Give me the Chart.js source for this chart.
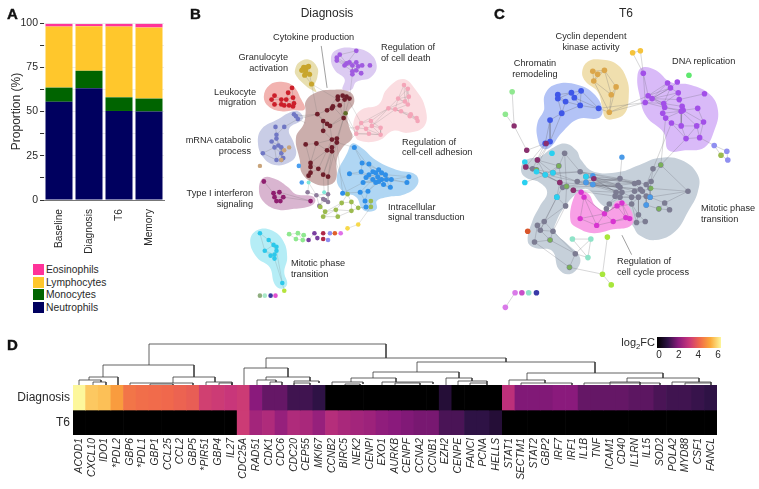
<!DOCTYPE html>
<html>
<head>
<meta charset="utf-8">
<title>Panels A-D</title>
<script src="https://cdn.jsdelivr.net/npm/chart.js@4/dist/chart.umd.min.js"></script>
<style>
html, body { margin: 0; padding: 0; background: #fff; }
#page { position: relative; width: 759px; height: 489px; overflow: hidden; font-family: "Liberation Sans", Arial, sans-serif; color: #2a2a2a; }
#page canvas { position: absolute; }
.note { position: absolute; white-space: nowrap; line-height: 1; }
.swatch { position: absolute; width: 11px; height: 11px; }
sub { font-size: 70%; line-height: 0; }
</style>
</head>
<body>
<div id="page"></div>
<script>
// panel A
const stages = ['Baseline', 'Diagnosis', 'T6', 'Memory'];
const neutrophils = [55.5, 63.2, 50.3, 50];
const monocytes = [8, 9.8, 7.7, 7.3];
const lymphocytes = [34.5, 25.2, 40, 40.2];
const eosinophils = [1.5, 1.2, 1.5, 2];
const proportionTicks = [0, 12.5, 25, 37.5, 50, 62.5, 75, 87.5, 100];

// panel D
const genes = ['ACOD1','CXCL10','IDO1','*PDL2','GBP6','*PDL1','GBP1','CCL25','CCL2','GBP5','*PIR51','GBP4','IL27',
  'CDC25A','RAD51','CDK1','CDC6','CDC20','CEP55','MKI67','CCNB2','BIRC5','NEK2','CENPI','EXO1','AURKB','CENPF','CCNA2','CCNB1',
  'EZH2','CENPE','FANCI','PCNA','HELLS','STAT1','SECTM1','STAT2','GBP2','IRF7','IRF1','IL1B','TNF','ICAM1','CD40','IL1RN','IL15','SOD2','POLA2','MYD88','CSF1','FANCL'];
const diagnosisFC = [6, 5.4, 5.3, 4.8, 4.2, 4.1, 4.05, 4, 3.9, 3.8, 3.2, 3.1, 3,
  3.1, 2, 1.6, 1.6, 1.2, 1.2, 1, 0, 0, 0, 0, 0, 0, 0, 0, 0,
  0.8, 0, 0, 0, 0, 2.8, 1.9, 1.9, 1.9, 2, 2, 1.6, 1.6, 1.6, 1.6, 1.5, 1.5, 1.3, 1.2, 1.2, 1.1, 1];
const t6FC = [0, 0, 0, 0, 0, 0, 0, 0, 0, 0, 0, 0, 0,
  3.1, 2.4, 2.6, 2.2, 2.6, 2.5, 2.2, 2.7, 2.5, 2.4, 2.3, 2.1, 2, 1.9, 1.8, 1.8,
  1.3, 1.3, 1, 1, 0.8, 0, 0, 0, 0, 0, 0, 0, 0, 0, 0, 0, 0, 0, 0, 0, 0, 0];
const rowNames = ['T6', 'Diagnosis'];
const fcStops = ['#000000', '#2e1245', '#8a1a7c', '#c8367a', '#f0684c', '#fba93a', '#fdf79c'];
const fcTicks = [0, 2, 4, 6];
// left x, left bottom, top, right x, right bottom
const dendroMerges = [
  [149,365,344,386,358], [103,377,365,194,377], [89,380,377,118,385], [79,385,380,101,382], [93,385,382,106,385],
  [173,383,377,215,382], [130,385,383,193,385], [150,385,384,173,385], [206,385,382,232,385], [219,385,383,232,385],
  [266,368,358,506,362], [244,385,368,288,377], [266,380,377,310,381], [257,385,380,276,382], [270,385,382,282,385],
  [294,385,381,319,383], [294,385,383,310,385], [417,372,362,595,373], [373,378,372,459,378], [351,382,378,396,382],
  [332,385,382,363,384], [345,385,384,360,385], [382,385,382,433,384], [395,385,383,420,385], [446,385,378,472,381],
  [458,385,381,487,383], [470,385,383,487,385], [527,380,373,663,378], [509,385,380,545,383], [521,385,383,572,385],
  [627,382,378,699,382], [584,385,383,660,385], [610,385,382,640,385], [672,385,382,711,383], [685,385,383,711,385]
];

// panel B networks, node positions in plot units
const bGran = [[303,65],[306,65],[308,64],[302,67],[305,69],[301,68],[309,72],[304,73],[311,82]];
const bGranLinks = [0,1,1,2,0,3,3,4,4,5,1,4,2,6,4,6,6,7,3,7,7,8,6,8];
const bDeath = [[340,52],[337,55],[337,58],[357,48],[347,61],[350,60],[357,60],[345,63],[353,63],[359,64],[363,63],[371,63],[353,69],[357,68],[362,71],[353,72]];
const bDeathLinks = [0,1,1,2,0,3,0,4,1,4,2,7,2,4,3,4,4,5,5,6,6,8,6,9,8,9,9,10,7,8,7,12,8,12,8,13,12,15,13,14,12,13,13,15,4,7];
const bLeuk = [[291,86],[287,91],[273,94],[270,98],[285,98],[292,96],[280,98],[293,102],[273,103],[280,103],[288,104],[292,105],[283,104]];
const bLeukLinks = [0,1,1,4,1,5,0,5,2,3,2,6,3,6,6,4,4,5,4,7,5,7,6,9,8,9,3,8,4,10,7,11,10,11,9,12,12,10,4,12];
const bRna = [[293,113],[295,115],[297,118],[274,126],[283,126],[275,134],[270,141],[275,138],[277,145],[280,147],[261,153],[275,160],[280,160],[280,153],[273,147],[282,158]];
const bRnaLinks = [0,1,1,2,0,2,3,5,4,5,5,7,6,7,7,8,8,9,6,8,7,9,8,13,9,13,13,12,13,15,12,15,11,12,11,13,10,11,10,14,14,8,14,13,6,14,14,11,2,4,9,15];
const bRnaTan = [[288,147],[283,150],[280,160],[258,166]];
const bCyto = [[338,95],[343,94],[347,95],[350,97],[338,98],[345,98],[340,104],[333,105],[332,107],[327,109],[317,113],[344,117],[323,120],[327,123],[330,125],[323,130],[337,138],[332,139],[337,142],[305,144],[316,143],[332,147],[327,150],[332,151],[310,163],[310,167],[323,175],[328,177],[310,173],[318,169],[308,176]];
const bCytoLinks = [0,1,1,2,2,3,0,4,4,5,1,5,2,5,3,5,4,6,5,6,6,7,7,8,6,8,8,9,9,10,7,11,6,11,5,11,0,9,10,12,10,14,12,13,13,14,12,15,15,17,14,17,11,16,11,18,16,17,17,18,16,21,17,22,18,23,21,22,22,23,19,20,20,17,20,22,19,24,20,24,22,24,22,29,23,27,21,26,26,27,24,25,25,28,28,29,28,30,29,26,24,29,16,26,18,27,3,11,11,14];
const bAdh = [[406,83],[410,87],[411,95],[407,100],[400,97],[410,103],[390,107],[397,108],[403,110],[413,113],[419,117],[420,120],[412,115],[372,120],[362,122],[358,127],[367,128],[382,127],[382,134],[370,133],[357,133],[373,125]];
const bAdhLinks = [0,1,0,2,0,3,1,2,1,3,1,4,2,3,2,4,3,4,2,5,3,5,4,5,0,4,3,6,4,6,4,7,5,7,6,7,6,8,7,8,7,12,8,9,8,12,9,10,9,11,10,11,12,10,12,11,6,13,6,14,6,21,7,21,13,14,14,15,14,16,15,16,13,21,13,17,16,21,21,17,17,18,16,18,16,19,19,18,19,20,15,20,20,18,21,18,14,20];
const bIntra = [[350,174],[362,172],[363,163],[370,164],[370,175],[374,172],[377,173],[380,170],[383,173],[387,175],[379,177],[383,180],[388,180],[393,180],[367,178],[364,183],[374,180],[377,183],[380,182],[385,185],[392,188],[369,192],[361,193],[411,177],[409,183],[366,202],[343,194],[367,208],[355,147]];
const bIntraLinks = [0,1,0,4,1,2,2,3,2,7,3,7,3,5,1,4,4,5,5,6,6,7,7,8,8,9,9,12,12,13,10,11,11,12,10,16,16,17,17,18,18,19,19,20,13,20,13,23,13,24,9,23,12,24,23,24,14,10,14,8,14,16,15,16,15,17,15,11,4,10,5,10,5,11,6,11,7,12,8,13,6,13,7,13,16,19,17,20,21,17,21,11,22,16,21,22,22,25,21,25,25,27,26,22,26,15,20,8,19,7,18,12,10,12,16,12,17,13,14,13,28,2,28,5];
const bOlive = [[320,208],[325,213],[323,218],[336,211],[338,218],[352,212],[352,203],[342,204],[359,209],[348,195],[372,208],[372,202]];
const bOliveLinks = [0,1,1,2,1,3,2,3,3,4,3,7,4,5,3,5,5,6,6,7,7,9,6,9,5,8,6,8,2,4,8,10,10,11,1,7];
const bMauve = [[307,193],[316,196],[323,200],[325,201],[328,203],[328,195],[319,207]];
const bMauveLinks = [0,1,1,2,2,3,3,4,1,5,5,4,2,6,1,6,3,6];
const bIfn = [[262,182],[278,193],[272,194],[273,198],[282,198],[275,202],[279,202],[310,202]];
const bIfnLinks = [0,2,1,2,1,3,1,4,2,3,3,4,3,5,4,6,5,6,4,7,1,7];
const bMit = [[258,235],[267,242],[272,247],[275,249],[263,253],[275,253],[269,258],[273,257],[281,286],[273,261]];
const bMitLinks = [0,1,0,4,1,2,1,3,1,5,2,3,2,4,2,5,4,6,4,7,3,5,5,7,6,7,6,9,7,9,5,8,9,8];
const bGreen = [[288,236],[297,235],[303,237],[295,241],[302,242]];
const bGreenLinks = [0,1,1,2,0,3,3,4,2,4,1,3,1,4];
// x1, y1, x2, y2 for links between groups
const bCross = [[311,82,317,113],[350,97,353,72],[346,112,357,133],[353,137,357,133],[297,118,317,113],[297,113,305,116],[295,115,317,113],[297,118,305,122],
  [350,127,358,127],[347,95,362,122],[344,117,357,133],[337,142,355,147],[337,142,343,194],[332,151,348,195],[323,175,324,193],[328,177,328,195],[310,173,307,193],[316,196,308,183],
  [319,207,320,208],[348,195,343,194],[359,226,372,208],[348,230,359,226],[281,286,283,294],[303,242,308,242],[308,242,314,235],[314,235,317,240],[338,98,311,82],[330,125,346,112]];
const bBlue = [[298,166],[301,183]];
const bCyan = [[308,183],[324,193]];
const bLoose = [[346,112],[283,294],[348,230],[359,226],[308,242],[314,235],[317,240],[323,235],[323,241],[330,235],[328,242],[335,235],[341,235],[258,299],[263,299],[269,299],[274,299]];
const bLooseColors = ['#5f6d2a','#b5e33c','#f7d94a','#f7d94a','#7a3fa0','#7a3fa0','#7a3fa0','#b02a4a','#b02a4a','#8f8ff0','#8f8ff0','#e0602a','#e070e8','#8fae7f','#a8e8c8','#3a3aa0','#e050d0'];
const bCytoLeader = [321,43,327,86];

const bGranBlob = [[294,68],[298,60],[308,57],[317,65],[317,75],[314,84],[316,90],[311,88],[303,82],[295,73]];
const bDeathBlob = [[331,55],[337,47],[353,45],[370,50],[378,63],[372,75],[357,80],[352,88],[343,88],[345,77],[335,68]];
const bLeukBlob = [[262,95],[268,83],[282,80],[293,85],[300,97],[304,108],[293,109],[280,110],[267,105]];
const bRnaBlob = [[256,143],[260,128],[277,118],[287,112],[297,110],[302,118],[288,128],[293,143],[295,155],[287,163],[273,165],[262,158]];
const bCytoBlob = [[305,100],[313,92],[330,88],[350,90],[355,100],[348,113],[350,127],[353,137],[343,147],[337,160],[336,180],[327,186],[312,183],[301,173],[299,160],[295,137],[303,123],[305,110]];
const bIfnBlob = [[257,190],[262,178],[275,180],[287,188],[295,195],[312,197],[315,202],[310,207],[293,210],[277,211],[262,203]];
const bMitBlob = [[248,243],[255,232],[270,232],[282,243],[286,260],[283,275],[286,287],[280,292],[273,287],[268,270],[255,260]];
const bIntraBlob = [[337,177],[348,152],[353,143],[363,148],[377,160],[398,170],[418,175],[420,185],[407,195],[388,198],[378,202],[378,210],[370,213],[363,210],[357,198],[343,192]];
const bAdhBlob = [[355,118],[363,108],[380,103],[388,88],[405,77],[418,88],[428,107],[427,125],[410,132],[395,130],[380,140],[360,140],[355,132]];

// panel C network
const cChrom = [[556,93],[556,97],[570,91],[580,89],[573,96],[564,100],[579,104],[598,107],[560,112],[548,119],[548,141],[543,143]];
const cChromLinks = [0,1,0,2,1,2,2,3,2,4,3,4,3,6,4,6,1,5,0,5,5,6,5,8,1,8,8,6,6,7,3,7,4,7,8,9,8,10,9,11,10,11,9,10];
const cCyclin = [[592,69],[597,72],[604,68],[593,79],[616,85],[611,93],[609,111]];
const cCyclinLinks = [0,1,0,2,1,2,0,3,1,3,2,3,2,4,3,5,4,5,4,6,5,6,3,6,2,5];
const cDna = [[644,71],[669,81],[679,80],[672,86],[680,91],[707,92],[649,94],[653,97],[681,98],[646,101],[665,102],[666,106],[684,105],[685,109],[700,107],[664,112],[683,110],[667,117],[673,122],[683,125],[699,125],[706,121],[688,138],[702,137]];
const cDnaLinks = [0,6,0,9,6,1,6,3,7,1,7,3,7,4,9,3,9,10,7,10,6,10,9,11,7,11,7,8,1,3,2,3,3,4,4,8,8,12,10,11,10,12,11,13,12,13,13,14,5,8,3,10,4,10,11,15,15,17,17,18,13,16,16,19,12,19,18,19,19,20,20,21,14,21,13,21,19,22,18,22,22,23,21,23,20,23,20,22,16,20,10,15,15,16,11,16,17,16];
const cMit = [[563,153],[557,166],[523,167],[535,160],[530,169],[534,170],[543,175],[551,173],[579,172],[585,177],[593,179],[576,182],[558,183],[561,188],[565,187],[572,191],[585,183],[592,185],[555,198],[564,207],[620,179],[618,186],[620,188],[616,193],[622,193],[615,197],[620,198],[635,184],[639,183],[647,185],[652,182],[641,190],[635,192],[651,189],[643,192],[632,198],[639,198],[647,197],[651,198],[609,205],[606,210],[632,205],[666,204],[647,206],[660,210],[671,211],[690,192],[662,165],[654,169],[639,216],[646,223],[637,224],[542,223],[535,227],[538,232],[551,233],[548,242],[532,244],[574,256],[568,270]];
const cMitLinks = [8,20,8,21,9,20,9,22,10,21,10,23,11,20,11,22,11,23,15,23,15,25,16,21,16,24,17,20,17,22,17,24,8,27,9,27,10,28,16,27,17,31,8,23,14,20,13,21,12,22,6,8,7,8,7,11,6,11,6,12,4,6,2,4,2,6,3,6,3,7,5,7,2,12,4,12,0,1,0,8,1,7,1,6,1,13,0,14,1,3,13,18,12,18,18,19,14,19,19,52,18,52,52,53,52,54,53,54,54,55,55,56,56,57,53,57,54,56,52,55,19,55,18,54,55,58,58,59,56,58,57,59,
  20,21,21,22,22,23,23,24,24,25,25,26,20,27,20,28,21,27,22,31,22,32,24,32,24,35,26,35,26,36,27,28,28,29,29,30,27,31,31,32,31,34,32,34,33,34,29,33,30,33,33,38,34,37,36,37,37,38,35,36,38,42,37,43,41,35,41,36,43,44,44,45,42,45,42,44,46,42,46,38,46,33,47,48,47,46,48,30,48,29,47,30,39,25,39,40,40,41,39,26,41,49,49,50,49,51,50,51,36,49,41,51];
const cPink = [[580,193],[583,198],[579,220],[596,227],[604,215],[613,223],[622,204],[626,219],[630,220],[617,207]];
const cPinkLinks = [0,1,1,2,1,4,2,3,2,4,3,4,3,5,4,5,4,6,5,7,5,8,6,7,6,8,6,9,7,8,9,7,9,4,1,3];
const cCross = [[654,169,673,122],[662,165,688,138],[662,165,667,117],[522,183,543,175],[548,141,535,160],[543,143,523,167],[524,150,543,143],[511,125,524,150],[509,90,511,125],[502,113,511,125],
  [598,107,609,111],[609,111,646,101],[609,111,649,94],[598,107,646,101],[633,50,641,48],[641,48,644,71],[633,50,644,71],[702,137,717,145],[717,145,730,151],[717,145,724,155],[724,155,730,151],[730,151,731,160],[724,155,731,160],
  [622,157,620,179],[571,241,590,241],[590,241,587,260],[571,241,587,260],[574,256,590,241],[574,256,587,260],[607,239,602,277],[602,277,611,288],[568,270,602,277],[512,296,502,311],[548,141,535,165],[543,143,530,169]];
const cMaroon = [[523,167],[535,160],[593,179],[558,183],[572,191],[524,150],[511,125],[544,143]];
const cSky = [[585,183],[592,185],[651,198],[647,206],[592,176],[622,157]];
const cCyan = [[585,177],[551,173],[543,175],[555,198],[534,172],[550,153],[522,162],[522,183]];
const cLeaf = [[534,170],[565,187],[557,166],[652,189],[660,210],[548,242],[568,270],[662,165],[524,150]];
const cLoose = [[633,50],[641,48],[691,73],[717,145],[730,151],[731,160],[724,155],[509,90],[502,113],[525,233],[571,241],[590,241],[587,260],[607,239],[602,277],[611,288],[512,296],[519,296],[526,296],[534,296],[502,311]];
const cLooseColors = ['#f5c33b','#f5c33b','#5fe86f','#8f8ff0','#8f8ff0','#8f8ff0','#9cbb4f','#90e890','#90e890','#d9552a','#8fe3c8','#8fe3c8','#8fe3c8','#a8e63c','#a8e63c','#a8e63c','#d97ae8','#c84fc8','#8fe3c8','#3a3aa8','#d97ae8'];
const cLeader = [622,237,632,257];

const cChromBlob = [[543,92],[555,82],[577,83],[593,92],[602,108],[598,117],[577,118],[560,132],[548,147],[540,148],[535,137],[535,122],[542,108]];
const cCyclinBlob = [[581,70],[587,59],[600,57],[617,62],[627,77],[629,95],[625,112],[613,118],[605,117],[602,107],[597,90],[585,80]];
const cDnaBlob = [[638,73],[643,65],[657,68],[672,80],[693,83],[713,93],[721,110],[717,130],[707,147],[687,150],[670,150],[665,132],[647,115],[640,93]];
const cMitBlob = [[523,160],[537,157],[550,148],[563,143],[575,150],[580,160],[593,172],[620,172],[640,165],[660,158],[683,160],[700,175],[700,193],[690,213],[677,233],[657,242],[640,237],[633,227],[620,210],[603,207],[587,190],[577,193],[563,208],[555,222],[553,233],[567,247],[578,258],[578,268],[568,277],[557,272],[550,253],[532,250],[525,243],[530,222],[537,208],[545,193],[537,183],[523,178],[518,170]];
const cPinkBlob = [[573,197],[580,192],[588,195],[595,207],[608,212],[617,202],[627,205],[634,220],[630,228],[613,231],[593,235],[577,230],[569,222]];

// text placed around the panels: text, x, y centre, align, size, weight
const notes = [
  ['A',7,13,'left',15,'bold'], ['B',190,13,'left',15,'bold'], ['C',494,13,'left',15,'bold'], ['D',7,344,'left',15,'bold'],
  ['Diagnosis',327,13,'center',12], ['T6',626,13,'center',12],
  ['Cytokine production',273,37.5,'left',9.2],
  ['Regulation of',381,48,'left',9.2], ['of cell death',381,59,'left',9.2],
  ['Granulocyte',288,58,'right',9.2], ['activation',288,69,'right',9.2],
  ['Leukocyte',256,93,'right',9.2], ['migration',256,103,'right',9.2],
  ['mRNA catabolic',251,141,'right',9.2], ['process',251,152,'right',9.2],
  ['Regulation of',402,143,'left',9.2], ['cell-cell adhesion',402,153,'left',9.2],
  ['Type I interferon',253,194,'right',9.2], ['signaling',253,205,'right',9.2],
  ['Intracellular',388,208,'left',9.2], ['signal transduction',388,218,'left',9.2],
  ['Mitotic phase',291,264,'left',9.2], ['transition',291,275,'left',9.2],
  ['Cyclin dependent',591,37,'center',9.2], ['kinase activity',591,48,'center',9.2],
  ['Chromatin',535,64,'center',9.2], ['remodeling',535,75,'center',9.2],
  ['DNA replication',672,62,'left',9.2],
  ['Mitotic phase',701,209,'left',9.2], ['transition',701,220,'left',9.2],
  ['Regulation of',617,262,'left',9.2], ['cell cycle process',617,273,'left',9.2]
];
const legendNames = ['Eosinophils', 'Lymphocytes', 'Monocytes', 'Neutrophils'];
const legendColors = ['#ff3399', '#ffc72c', '#006400', '#00005f'];

Chart.defaults.font.family = '"Liberation Sans", Arial, sans-serif';
Chart.defaults.color = '#2a2a2a';
Chart.defaults.animation = false;
Chart.defaults.responsive = false;
Chart.defaults.plugins.legend.display = false;
Chart.defaults.plugins.tooltip.enabled = false;

const page = document.getElementById('page');

function addCanvas(x, y, w, h) {
  const c = document.createElement('canvas');
  c.width = w; c.height = h;
  c.style.left = x + 'px'; c.style.top = y + 'px';
  c.style.width = w + 'px'; c.style.height = h + 'px';
  page.appendChild(c);
  return c.getContext('2d');
}

function addNote(text, x, y, align, size, weight) {
  const d = document.createElement('div');
  d.className = 'note';
  d.textContent = text;
  d.style.fontSize = size + 'px';
  if (weight) {
    d.style.fontWeight = weight;
    d.style.webkitTextStroke = '0.4px #111';
    d.style.color = '#111';
  }
  d.style.top = y + 'px';
  let shift = '0';
  if (align === 'right') shift = '-100%';
  if (align === 'center') shift = '-50%';
  d.style.left = x + 'px';
  d.style.transform = 'translate(' + shift + ',-50%)';
  page.appendChild(d);
  return d;
}

const toXY = p => ({ x: p[0], y: p[1] });

// the outline overlaps itself by one point each way so the curve has no corner at the seam
function blob(points, color) {
  const n = points.length;
  const wrapped = [points[n - 1], ...points, points[0], points[1]];
  return { data: wrapped.map(toXY), showLine: true, fill: 'shape', tension: 0.42, backgroundColor: color, borderWidth: 0, pointRadius: 0, order: 5 };
}
function links(nodes, pairs, color, width) {
  const data = [];
  for (let i = 0; i < pairs.length; i += 2) {
    data.push(toXY(nodes[pairs[i]]), toXY(nodes[pairs[i + 1]]), { x: null, y: null });
  }
  return { data, showLine: true, borderColor: color, borderWidth: width, pointRadius: 0, tension: 0, order: 3 };
}
function cross(segments, color, width) {
  const data = [];
  segments.forEach(s => data.push({ x: s[0], y: s[1] }, { x: s[2], y: s[3] }, { x: null, y: null }));
  return { data, showLine: true, borderColor: color, borderWidth: width, pointRadius: 0, tension: 0, order: 3 };
}
function nodes(points, color, r, order) {
  return { data: points.map(toXY), backgroundColor: color, pointBackgroundColor: color, pointBorderWidth: 0, pointRadius: r, order: order || 2 };
}
function networkChart(ctx, x0, x1, y1, datasets) {
  return new Chart(ctx, {
    type: 'scatter',
    data: { datasets },
    options: {
      events: [],
      layout: { padding: 0 },
      scales: {
        x: { type: 'linear', min: x0, max: x1, display: false },
        y: { type: 'linear', min: 0, max: y1, reverse: true, display: false }
      }
    }
  });
}

// A: stacked bars
new Chart(addCanvas(0, 0, 180, 262), {
  type: 'bar',
  data: {
    labels: stages,
    datasets: [
      { label: 'Neutrophils', data: neutrophils, backgroundColor: '#00005f' },
      { label: 'Monocytes', data: monocytes, backgroundColor: '#006400' },
      { label: 'Lymphocytes', data: lymphocytes, backgroundColor: '#ffc72c' },
      { label: 'Eosinophils', data: eosinophils, backgroundColor: '#ff3399' }
    ]
  },
  options: {
    layout: { padding: { top: 23, right: 16 } },
    datasets: { bar: { barPercentage: 0.9, categoryPercentage: 1 } },
    scales: {
      x: {
        stacked: true,
        afterFit: s => { s.height = 62; },
        grid: { display: false, tickColor: '#333', tickLength: 4 },
        border: { color: '#777' },
        ticks: { maxRotation: 90, minRotation: 90, font: { size: 10.2 }, padding: 5, color: '#2a2a2a' }
      },
      y: {
        stacked: true, min: 0, max: 100,
        afterFit: s => { s.width = 44; },
        afterBuildTicks: s => { s.ticks = proportionTicks.map(v => ({ value: v })); },
        grid: { color: '#ececec', tickColor: '#333', tickLength: 4 },
        border: { display: false },
        title: { display: true, text: 'Proportion (%)', font: { size: 12 }, padding: { top: 9, bottom: 0 } },
        ticks: { autoSkip: false, font: { size: 10.5 }, padding: 2, color: '#2a2a2a', callback: v => (v % 25 === 0 ? v : '') }
      }
    }
  }
});

legendNames.forEach((name, i) => {
  const s = document.createElement('div');
  s.className = 'swatch';
  s.style.left = '33px';
  s.style.top = (264 + i * 12.7) + 'px';
  s.style.background = legendColors[i];
  page.appendChild(s);
  addNote(name, 46, 270 + i * 12.7, 'left', 10.3);
});

// B
const bEdge = 'rgba(105,105,105,0.38)';
networkChart(addCanvas(180, 0, 300, 325), 180, 480, 325, [
  blob(bRnaBlob, '#c9cde6'), blob(bCytoBlob, '#cbaeac'), blob(bAdhBlob, '#fbdde1'), blob(bIntraBlob, '#b0d6f3'),
  blob(bGranBlob, '#e8dfb0'), blob(bDeathBlob, '#dccbf2'), blob(bLeukBlob, '#f2b3b0'), blob(bIfnBlob, '#d9b5d0'), blob(bMitBlob, '#b5edf6'),
  links(bGran, bGranLinks, bEdge, 0.6), links(bDeath, bDeathLinks, bEdge, 0.6), links(bLeuk, bLeukLinks, bEdge, 0.6),
  links(bRna, bRnaLinks, bEdge, 0.6), links(bCyto, bCytoLinks, bEdge, 0.6), links(bAdh, bAdhLinks, bEdge, 0.5),
  links(bIntra, bIntraLinks, bEdge, 0.5), links(bOlive, bOliveLinks, bEdge, 0.6), links(bMauve, bMauveLinks, bEdge, 0.6),
  links(bIfn, bIfnLinks, bEdge, 0.6), links(bMit, bMitLinks, bEdge, 0.5), links(bGreen, bGreenLinks, bEdge, 0.5),
  cross(bCross, bEdge, 0.5), cross([bCytoLeader], '#888', 0.8),
  nodes(bGran, '#c8a52c', 2.6), nodes(bDeath, '#a05be0', 2.4), nodes(bLeuk, '#cc1f2a', 2.4), nodes(bRna, '#7077c4', 2.3),
  nodes(bRnaTan, '#c9a47a', 2.2, 1), nodes(bCyto, '#6e1f2b', 2.4), nodes(bAdh, '#f4a5b8', 2.3), nodes(bIntra, '#2f8fe8', 2.5),
  nodes(bOlive, '#9cbb4f', 2.4), nodes(bMauve, '#8e7c9c', 2.3), nodes(bIfn, '#8f1f6f', 2.4), nodes(bMit, '#2cc8ea', 2.3),
  nodes(bGreen, '#8fe88f', 2.4), nodes(bBlue, '#4a9ff0', 2.3, 1), nodes(bCyan, '#7fe8d8', 2, 1),
  { data: bLoose.map(toXY), pointBackgroundColor: bLooseColors, pointBorderWidth: 0, pointRadius: 2.3, order: 1 }
]);

// C
const cEdge = 'rgba(95,95,105,0.42)';
networkChart(addCanvas(480, 0, 279, 325), 480, 759, 325, [
  blob(cMitBlob, '#c6d0da'), blob(cChromBlob, '#b3c3f6'), blob(cCyclinBlob, '#f0dfae'), blob(cDnaBlob, '#d9baf8'),
  { ...blob(cPinkBlob, '#f8a0e6'), order: 4 },
  links(cMit, cMitLinks, cEdge, 0.6), links(cChrom, cChromLinks, cEdge, 0.7), links(cCyclin, cCyclinLinks, cEdge, 0.6),
  links(cDna, cDnaLinks, cEdge, 0.6), links(cPink, cPinkLinks, cEdge, 0.6), cross(cCross, 'rgba(120,120,125,0.5)', 0.6), cross([cLeader], '#888', 0.8),
  nodes(cMit, '#7c7c92', 2.8), nodes(cChrom, '#3f57e8', 2.9), nodes(cCyclin, '#dba64a', 2.8), nodes(cDna, '#a24fe8', 2.8), nodes(cPink, '#d834d0', 2.7),
  nodes(cMaroon, '#8a2f6f', 2.7, 1), nodes(cSky, '#4a9ae8', 2.7, 1), nodes(cCyan, '#2ad0f0', 2.8, 1), nodes(cLeaf, '#7ab05a', 2.4, 1),
  { data: cLoose.map(toXY), pointBackgroundColor: cLooseColors, pointBorderWidth: 0, pointRadius: 2.8, order: 1 }
]);

// D: colours of the heat map
function hexRgb(h) {
  return [1, 3, 5].map(i => parseInt(h.substr(i, 2), 16));
}
function fcColor(v) {
  const i = Math.min(Math.floor(v), fcStops.length - 2);
  const a = hexRgb(fcStops[i]), b = hexRgb(fcStops[i + 1]), t = v - i;
  return 'rgb(' + a.map((c, k) => Math.round(c + (b[k] - c) * t)).join(',') + ')';
}

// D: dendrogram
const dendroLines = [];
dendroMerges.forEach(m => {
  dendroLines.push({ x: m[0], y: m[1] }, { x: m[0], y: m[2] }, { x: m[3], y: m[2] }, { x: m[3], y: m[4] }, { x: null, y: null });
});
new Chart(addCanvas(0, 325, 759, 60), {
  type: 'scatter',
  data: { datasets: [{ data: dendroLines, showLine: true, borderColor: '#3a3a3a', borderWidth: 0.8, pointRadius: 0, tension: 0 }] },
  options: {
    scales: {
      x: { type: 'linear', min: 0, max: 759, display: false },
      y: { type: 'linear', min: 325, max: 385, reverse: true, display: false }
    }
  }
});

// D: heat map
new Chart(addCanvas(0, 325, 759, 164), {
  type: 'bar',
  data: {
    labels: genes,
    datasets: [
      { data: diagnosisFC.map(() => [1, 2]), backgroundColor: diagnosisFC.map(fcColor), grouped: false },
      { data: t6FC.map(() => [0, 1]), backgroundColor: t6FC.map(fcColor), grouped: false }
    ]
  },
  options: {
    layout: { padding: { top: 60, right: 42 } },
    datasets: { bar: { barPercentage: 1, categoryPercentage: 1, borderWidth: 0 } },
    scales: {
      x: {
        afterFit: s => { s.height = 54; },
        grid: { display: false, drawTicks: false },
        border: { display: false },
        ticks: { autoSkip: false, maxRotation: 90, minRotation: 90, padding: 3, color: '#2a2a2a', font: { size: 10.3, style: 'italic' } }
      },
      y: {
        min: 0, max: 2,
        afterFit: s => { s.width = 73; },
        afterBuildTicks: s => { s.ticks = [{ value: 0.5 }, { value: 1.5 }]; },
        grid: { display: false, drawTicks: false },
        border: { display: false },
        ticks: { padding: 3, color: '#2a2a2a', font: { size: 12 }, callback: v => rowNames[Math.floor(v)] }
      }
    }
  }
});

// D: colour bar
new Chart(addCanvas(640, 332, 100, 32), {
  type: 'bar',
  data: {
    labels: ['log2FC'],
    datasets: [{
      data: [[-0.2, 6.3]],
      barPercentage: 1, categoryPercentage: 1,
      backgroundColor: ctx => {
        const area = ctx.chart.chartArea;
        if (!area) return '#000';
        const g = ctx.chart.ctx.createLinearGradient(area.left, 0, area.right, 0);
        fcStops.forEach((c, i) => g.addColorStop(i / (fcStops.length - 1), c));
        return g;
      }
    }]
  },
  options: {
    indexAxis: 'y',
    layout: { padding: { top: 5, left: 17, right: 19 } },
    scales: {
      y: { display: false },
      x: {
        min: -0.2, max: 6.3,
        afterFit: s => { s.height = 16; },
        afterBuildTicks: s => { s.ticks = fcTicks.map(v => ({ value: v })); },
        grid: { display: false, drawTicks: false },
        border: { display: false },
        ticks: { autoSkip: false, maxRotation: 0, padding: 1, color: '#2a2a2a', font: { size: 10 } }
      }
    }
  }
});

notes.forEach(n => addNote(n[0], n[1], n[2], n[3], n[4], n[5]));
const fcLabel = addNote('', 655, 342, 'right', 11);
fcLabel.innerHTML = 'log<sub>2</sub>FC';
</script>
</body>
</html>
